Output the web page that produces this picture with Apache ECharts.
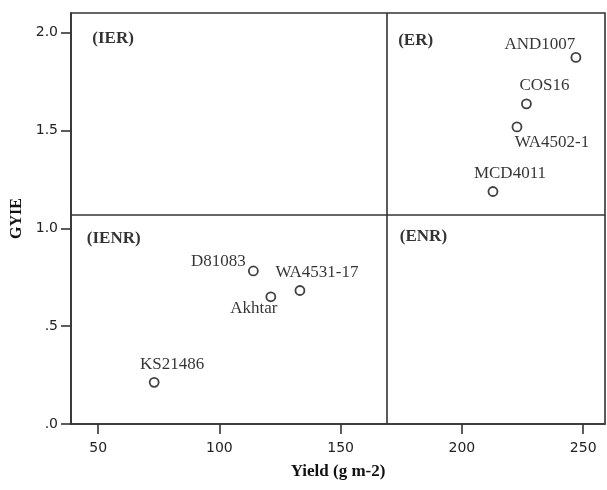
<!DOCTYPE html>
<html>
<head>
<meta charset="utf-8">
<script src="https://cdn.jsdelivr.net/npm/echarts@6/dist/echarts.min.js"></script>
<style>
  html, body { margin: 0; padding: 0; background: #fff; }
  #gyieChart { width: 607px; height: 490px; }
</style>
</head>
<body>
<div id="gyieChart"></div>
<script>
// genotypes: yield vs GYIE
let genotypes = ['AND1007', 'COS16', 'WA4502-1', 'MCD4011', 'D81083', 'Akhtar', 'WA4531-17', 'KS21486'];
let yieldValues = [247, 226.6, 222.7, 212.8, 114, 121.2, 133.2, 73.1];
let gyieValues = [1.873, 1.636, 1.518, 1.188, 0.782, 0.65, 0.682, 0.213];

// quadrant names and where they sit (data coords)
let quadrantNames = ['(IER)', '(ER)', '(IENR)', '(ENR)'];
let quadrantYield = [47.6, 173.7, 45.3, 174.4];
let quadrantGyie = [1.97, 1.96, 0.945, 0.955];

// dividing lines
let yieldSplit = 169;
let gyieSplit = 1.066;

let xTicks = [50, 100, 150, 200, 250];
let yTicks = [0, 0.5, 1, 1.5, 2];

// label offsets for each genotype (px, relative to point)
let labelOffsets = {
  'AND1007': [-36, -13],
  'COS16': [18, -18],
  'WA4502-1': [35, 16],
  'MCD4011': [17, -18],
  'D81083': [-35, -9],
  'Akhtar': [-17, 12],
  'WA4531-17': [17, -18],
  'KS21486': [18, -18]
};

var chartDom = document.getElementById('gyieChart');
var chart = echarts.init(chartDom);

var axisColor = '#333';
var serif = '"Liberation Serif", "Times New Roman", serif';

var pointData = genotypes.map(function (name, i) {
  return {
    name: name,
    value: [yieldValues[i], gyieValues[i]],
    label: { offset: labelOffsets[name] }
  };
});

var quadrantData = quadrantNames.map(function (name, i) {
  return { name: name, value: [quadrantYield[i], quadrantGyie[i]] };
});

function yFormat(v) {
  var s = v.toFixed(1);
  return s.charAt(0) === '0' ? s.slice(1) : s;
}

option = {
  animation: false,
  grid: {
    left: 71,
    right: 2,
    top: 13,
    bottom: 66,
    outerBoundsMode: 'none',
    containLabel: false,
    show: true,
    borderColor: axisColor,
    borderWidth: 1.6
  },
  xAxis: {
    type: 'value',
    min: 38.8,
    max: 259,
    name: 'Yield (g m-2)',
    nameLocation: 'middle',
    nameGap: 39,
    nameTextStyle: { fontFamily: serif, fontWeight: 'bold', fontSize: 17, color: '#111' },
    splitLine: { show: false },
    axisLine: { lineStyle: { color: axisColor, width: 1.6 } },
    axisTick: { length: 10, customValues: xTicks, lineStyle: { color: axisColor, width: 1.6 } },
    axisLabel: {
      customValues: xTicks,
      margin: 17,
      fontFamily: '"DejaVu Sans", sans-serif',
      fontSize: 14,
      color: '#222'
    }
  },
  yAxis: {
    type: 'value',
    min: 0,
    max: 2.1,
    name: 'GYIE',
    nameLocation: 'middle',
    nameGap: 38,
    nameTextStyle: { fontFamily: serif, fontWeight: 'bold', fontSize: 16, color: '#111' },
    splitLine: { show: false },
    axisLine: { lineStyle: { color: axisColor, width: 1.6 } },
    axisTick: { length: 10, customValues: yTicks, lineStyle: { color: axisColor, width: 1.6 } },
    axisLabel: {
      customValues: yTicks,
      margin: 13,
      formatter: yFormat,
      fontFamily: '"DejaVu Sans", sans-serif',
      fontSize: 14,
      color: '#222'
    }
  },
  series: [
    {
      type: 'scatter',
      data: pointData,
      symbol: 'circle',
      symbolSize: 9,
      itemStyle: { color: '#fff', borderColor: '#111', borderWidth: 1.8 },
      label: {
        show: true,
        position: 'inside',
        formatter: '{b}',
        fontFamily: serif,
        fontSize: 17,
        color: '#000',
        textBorderWidth: 0
      },
      markLine: {
        silent: true,
        symbol: 'none',
        label: { show: false },
        lineStyle: { color: axisColor, type: 'solid', width: 1.6 },
        data: [{ xAxis: yieldSplit }, { yAxis: gyieSplit }]
      },
      z: 5
    },
    {
      type: 'scatter',
      data: quadrantData,
      symbolSize: 0,
      silent: true,
      label: {
        show: true,
        position: 'right',
        distance: 0,
        formatter: '{b}',
        fontFamily: serif,
        fontWeight: 'bold',
        fontSize: 17,
        color: '#000'
      }
    }
  ]
};

chart.setOption(option);
</script>
</body>
</html>
